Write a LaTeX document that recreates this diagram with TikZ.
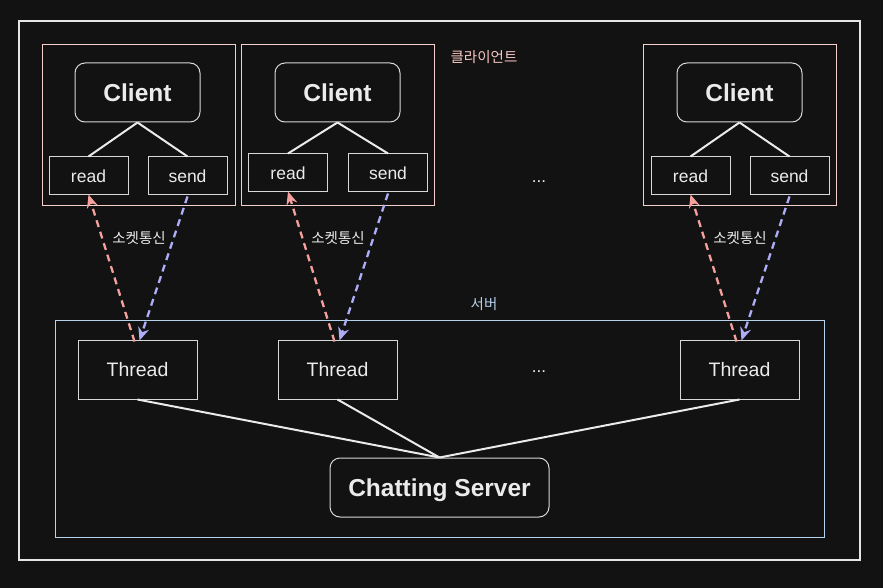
\documentclass[tikz,border=0pt]{standalone}
\usepackage{fontspec}
\setmainfont{Liberation Sans}
\newfontfamily\kr{Noto Sans CJK KR}
\usetikzlibrary{arrows.meta}
\definecolor{bg}{HTML}{121212}
\definecolor{txt}{HTML}{EBEBEB}
\definecolor{pinkc}{HTML}{F5CFCB}
\definecolor{bluec}{HTML}{B4D2EC}
\definecolor{pinkarrow}{HTML}{F4A09C}
\definecolor{bluearrow}{HTML}{ADADF8}
\definecolor{boxline}{HTML}{D8D8D8}
\begin{document}
\begin{tikzpicture}[x=1pt,y=-1pt,
  outerframe/.style={draw=white!90!black, line width=1.4pt, minimum width=841pt, minimum height=539pt, inner sep=0pt},
  grp/.style={draw=pinkc, line width=1pt, minimum width=193pt, minimum height=161pt, inner sep=0pt},
  srvframe/.style={draw=bluec, line width=1pt, minimum width=769pt, minimum height=217pt, inner sep=0pt},
  clientbox/.style={draw=boxline, line width=1pt, rounded corners=10pt, minimum width=125pt, minimum height=59pt, inner sep=0pt, text=txt, font=\fontsize{24.5}{28}\selectfont\bfseries, text height=17.5pt, text depth=0pt},
  rwbox/.style={draw=boxline, line width=1pt, minimum width=79pt, minimum height=38pt, inner sep=0pt, text=txt, font=\fontsize{17.5}{20}\selectfont, text height=12.6pt, text depth=0pt},
  threadbox/.style={draw=boxline, line width=1pt, minimum width=119pt, minimum height=59pt, inner sep=0pt, text=txt, font=\fontsize{19.5}{22}\selectfont, text height=14pt, text depth=0pt},
  serverbox/.style={draw=boxline, line width=1pt, rounded corners=10pt, minimum width=219pt, minimum height=59pt, inner sep=0pt, text=txt, font=\fontsize{24.5}{28}\selectfont\bfseries, text height=17.5pt, text depth=0pt},
  krlabel/.style={inner sep=0pt, font=\kr\fontsize{14.5}{17}\selectfont},
  dots/.style={inner sep=0pt, text=txt, font=\fontsize{17}{20}\selectfont},
  tree/.style={draw=white!92!black, line width=2pt},
  readarrow/.style={draw=pinkarrow, line width=2.3pt, dash pattern=on 7pt off 5pt, -{Stealth[length=13pt,width=11pt,fill=pinkarrow]}},
  sendarrow/.style={draw=bluearrow, line width=2.3pt, dash pattern=on 7pt off 5pt, -{Stealth[length=13pt,width=11pt,fill=bluearrow]}}
]
\fill[bg] (0,0) rectangle (883,588);
\useasboundingbox (0,0) rectangle (883,588);

\node[outerframe] (outer) at (439.5,290.5) {};
\node[srvframe] (srv) at (439.5,428.5) {};
\node[grp] (g1) at (138.5,125.5) {};
\node[grp] (g2) at (337.5,125.5) {};
\node[grp] (g3) at (739.5,125.5) {};

\node[krlabel, text=pinkc!80!pinkarrow] (lblc) at (484,57) {클라이언트};
\node[krlabel, text=bluec] (lbls) at (484,304) {서버};

% clients
\node[clientbox] (c1) at (137.5,92.5) {Client};
\node[clientbox] (c2) at (337.5,92.5) {Client};
\node[clientbox] (c3) at (739.5,92.5) {Client};

\node[rwbox] (r1) at (88.5,176) {read};
\node[rwbox] (s1) at (187.5,176) {send};
\node[rwbox] (r2) at (288,173) {read};
\node[rwbox] (s2) at (388,173) {send};
\node[rwbox] (r3) at (690.5,176) {read};
\node[rwbox] (s3) at (789.5,176) {send};

\draw[tree] (c1.south) -- (r1.north);
\draw[tree] (c1.south) -- (s1.north);
\draw[tree] (c2.south) -- (r2.north);
\draw[tree] (c2.south) -- (s2.north);
\draw[tree] (c3.south) -- (r3.north);
\draw[tree] (c3.south) -- (s3.north);

\node[dots] (d1) at (539,182) {...};
\node[dots] (d2) at (539,372) {...};

% threads
\node[threadbox] (t1) at (137.5,369.5) {Thread};
\node[threadbox] (t2) at (337.5,369.5) {Thread};
\node[threadbox] (t3) at (739.5,369.5) {Thread};

\node[serverbox] (cs) at (439.5,487.5) {Chatting Server};

\draw[tree] (t1.south) -- (cs.north);
\draw[tree] (t2.south) -- (cs.north);
\draw[tree] (t3.south) -- (cs.north);

% socket arrows
\draw[readarrow] ([xshift=-3pt,yshift=-2pt]t1.north) -- ([yshift=1pt]r1.south);
\draw[sendarrow] ([yshift=-1pt]s1.south) -- ([xshift=2pt,yshift=-1pt]t1.north);
\draw[readarrow] ([xshift=-3pt,yshift=-2pt]t2.north) -- ([yshift=1pt]r2.south);
\draw[sendarrow] ([yshift=-1pt]s2.south) -- ([xshift=2pt,yshift=-1pt]t2.north);
\draw[readarrow] ([xshift=-3pt,yshift=-2pt]t3.north) -- ([yshift=1pt]r3.south);
\draw[sendarrow] ([yshift=-1pt]s3.south) -- ([xshift=2pt,yshift=-1pt]t3.north);

\node[krlabel, text=txt] (sk1) at (139,238) {소켓통신};
\node[krlabel, text=txt] (sk2) at (338,238) {소켓통신};
\node[krlabel, text=txt] (sk3) at (740,238) {소켓통신};
\end{tikzpicture}
\end{document}
